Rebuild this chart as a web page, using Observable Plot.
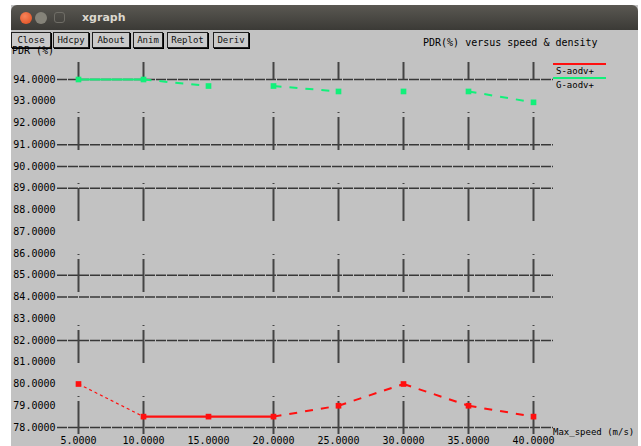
<!DOCTYPE html>
<html><head><meta charset="utf-8">
<script src="https://cdn.jsdelivr.net/npm/d3@7"></script>
<script src="https://cdn.jsdelivr.net/npm/@observablehq/plot@0.6"></script>
<style>
html,body{margin:0;padding:0;background:#fff;width:641px;height:446px;overflow:hidden;font-family:"DejaVu Sans Mono",monospace;}
.abs{position:absolute;}
#win{left:11px;top:5px;width:627px;height:441px;background:#c2c2c2;}
#bar{left:11px;top:5px;width:627px;height:25px;background:linear-gradient(#5a5852,#3b3a36);border-radius:6px 6px 0 0;}
.circ{width:12px;height:12px;border-radius:50%;top:12px;}
#wtitle{left:82px;top:10px;color:#dcd8cf;font:bold 11px "DejaVu Sans",sans-serif;line-height:16px;}
.btn{top:32px;height:14px;background:#cacaca;border:1px solid #202020;box-shadow:1px 1px 0 #000;font-size:9px;line-height:14px;text-align:center;color:#111;}
.txt{font-size:10px;line-height:12px;color:#000;white-space:nowrap;}
#chart{left:0;top:0;}
.leg{height:0;border-top:2px solid;width:53px;left:553px;}
</style></head>
<body>
<div id="win" class="abs"></div>
<div id="bar" class="abs"></div>
<div class="abs circ" style="left:20px;background:radial-gradient(circle at 40% 35%,#f6845a,#de4a1c);"></div>
<div class="abs circ" style="left:35px;background:#858379;"></div>
<div class="abs circ" style="left:54px;width:11px;height:11px;border-radius:3px;border:1px solid #6f6d66;box-sizing:border-box;"></div>
<div id="wtitle" class="abs">xgraph</div>
<div id="chart" class="abs"></div>
<div id="overlay"></div>
<script>
// ---- data ----
const xValues = [5, 10, 15, 20, 25, 30, 35, 40];
const redValues = [80.0, 78.5, 78.5, 78.5, 79.0, 80.0, 79.0, 78.5];
const greenValues = [94.0, 94.0, 93.7, 93.7, 93.45, 93.45, 93.45, 92.95];
const seriesNames = ["S-aodv+", "G-aodv+"];
const xTickValues = [5, 10, 15, 20, 25, 30, 35, 40];
const yTickValues = [94, 93, 92, 91, 90, 89, 88, 87, 86, 85, 84, 83, 82, 81, 80, 79, 78];
const yGridValues = [94, 91, 90, 89, 85, 84, 82, 78];
const xGridValues = [5, 10, 20, 25, 30, 35, 40];
const buttonLabels = ["Close", "Hdcpy", "About", "Anim", "Replot", "Deriv"];
const titleText = "PDR(%) versus speed & density";
const yLabelText = "PDR (%)";
const xLabelText = "Max_speed (m/s)";

// ---- styles (kept apart from data) ----
const redSegStyle = ["dot", "solid", "solid", "dash", "dash", "dash", "dash"];
const greenSegStyle = ["solid", "dash", null, "dash", null, null, "dash"];
const segStyles = {
  solid: {strokeWidth: 2.2, strokeDasharray: null},
  dash: {strokeWidth: 2, strokeDasharray: "8,8"},
  dot: {strokeWidth: 1.2, strokeDasharray: "3,3"}
};
const RED = "#ff1010", GREEN = "#12f07a";

function segments(ys, styles, color) {
  const out = [];
  for (let i = 0; i < ys.length - 1; i++) {
    if (styles[i]) out.push({x1: xValues[i], y1: ys[i], x2: xValues[i + 1], y2: ys[i + 1], style: styles[i], color});
  }
  return out;
}
const segs = [...segments(redValues, redSegStyle, RED), ...segments(greenValues, greenSegStyle, GREEN)];
const pts = [
  ...xValues.map((x, i) => ({x, y: redValues[i], color: RED})),
  ...xValues.map((x, i) => ({x, y: greenValues[i], color: GREEN}))
];

const linkMarks = Object.keys(segStyles).map(k =>
  Plot.link(segs.filter(s => s.style === k), {
    x1: "x1", y1: "y1", x2: "x2", y2: "y2", stroke: "color",
    strokeWidth: segStyles[k].strokeWidth,
    strokeDasharray: segStyles[k].strokeDasharray || undefined
  })
);

const chart = Plot.plot({
  width: 641, height: 446,
  marginLeft: 78, marginRight: 108, marginTop: 79, marginBottom: 19,
  x: {domain: [5, 40], axis: null},
  y: {domain: [78, 94], axis: null},
  style: {background: "transparent", overflow: "visible", fontFamily: "DejaVu Sans Mono, monospace", fontSize: "10px", color: "#000"},
  marks: [
    Plot.ruleY(yGridValues, {y: d => d, insetLeft: -21, insetRight: -20, stroke: "#383838", strokeWidth: 1.5, strokeDasharray: "10,1"}),
    Plot.ruleX(xGridValues, {x: d => d, insetTop: -17, insetBottom: -10, stroke: "#444", strokeWidth: 2, strokeDasharray: "1,4,33,33", strokeDashoffset: 21}),
    ...linkMarks,
    Plot.dot(pts, {x: "x", y: "y", fill: "color", symbol: "square", r: 3.2}),
    Plot.axisY(yTickValues, {anchor: "left", tickSize: 0, tickPadding: 23, tickFormat: d => d.toFixed(4), fill: "#000"}),
    Plot.axisX(xTickValues, {anchor: "bottom", tickSize: 0, tickPadding: 9, tickFormat: d => d.toFixed(4), fill: "#000"})
  ]
});
document.getElementById("chart").appendChild(chart);

// ---- window chrome / texts ----
const ov = document.getElementById("overlay");
const btnBoxes = [[11, 38], [53, 34], [92, 36], [133, 28], [167, 39], [213, 34]];
buttonLabels.forEach((b, i) => {
  const d = document.createElement("div");
  d.className = "abs btn";
  d.style.left = btnBoxes[i][0] + "px";
  d.style.width = btnBoxes[i][1] + "px";
  d.textContent = b;
  ov.appendChild(d);
});
function txt(t, l, top, extra) {
  const d = document.createElement("div");
  d.className = "abs txt";
  d.style.left = l + "px"; d.style.top = top + "px";
  if (extra) Object.assign(d.style, extra);
  d.textContent = t;
  ov.appendChild(d);
}
txt(yLabelText, 12, 45);
txt(titleText, 423, 37);
txt(xLabelText, 553, 426, {fontSize: "9px"});
[RED, GREEN].forEach((c, i) => {
  const l = document.createElement("div");
  l.className = "abs leg";
  l.style.top = (63 + i * 14) + "px";
  l.style.borderColor = c;
  ov.appendChild(l);
  txt(seriesNames[i], 556, 65 + i * 14, {fontSize: "9px"});
});
</script>
</body></html>
